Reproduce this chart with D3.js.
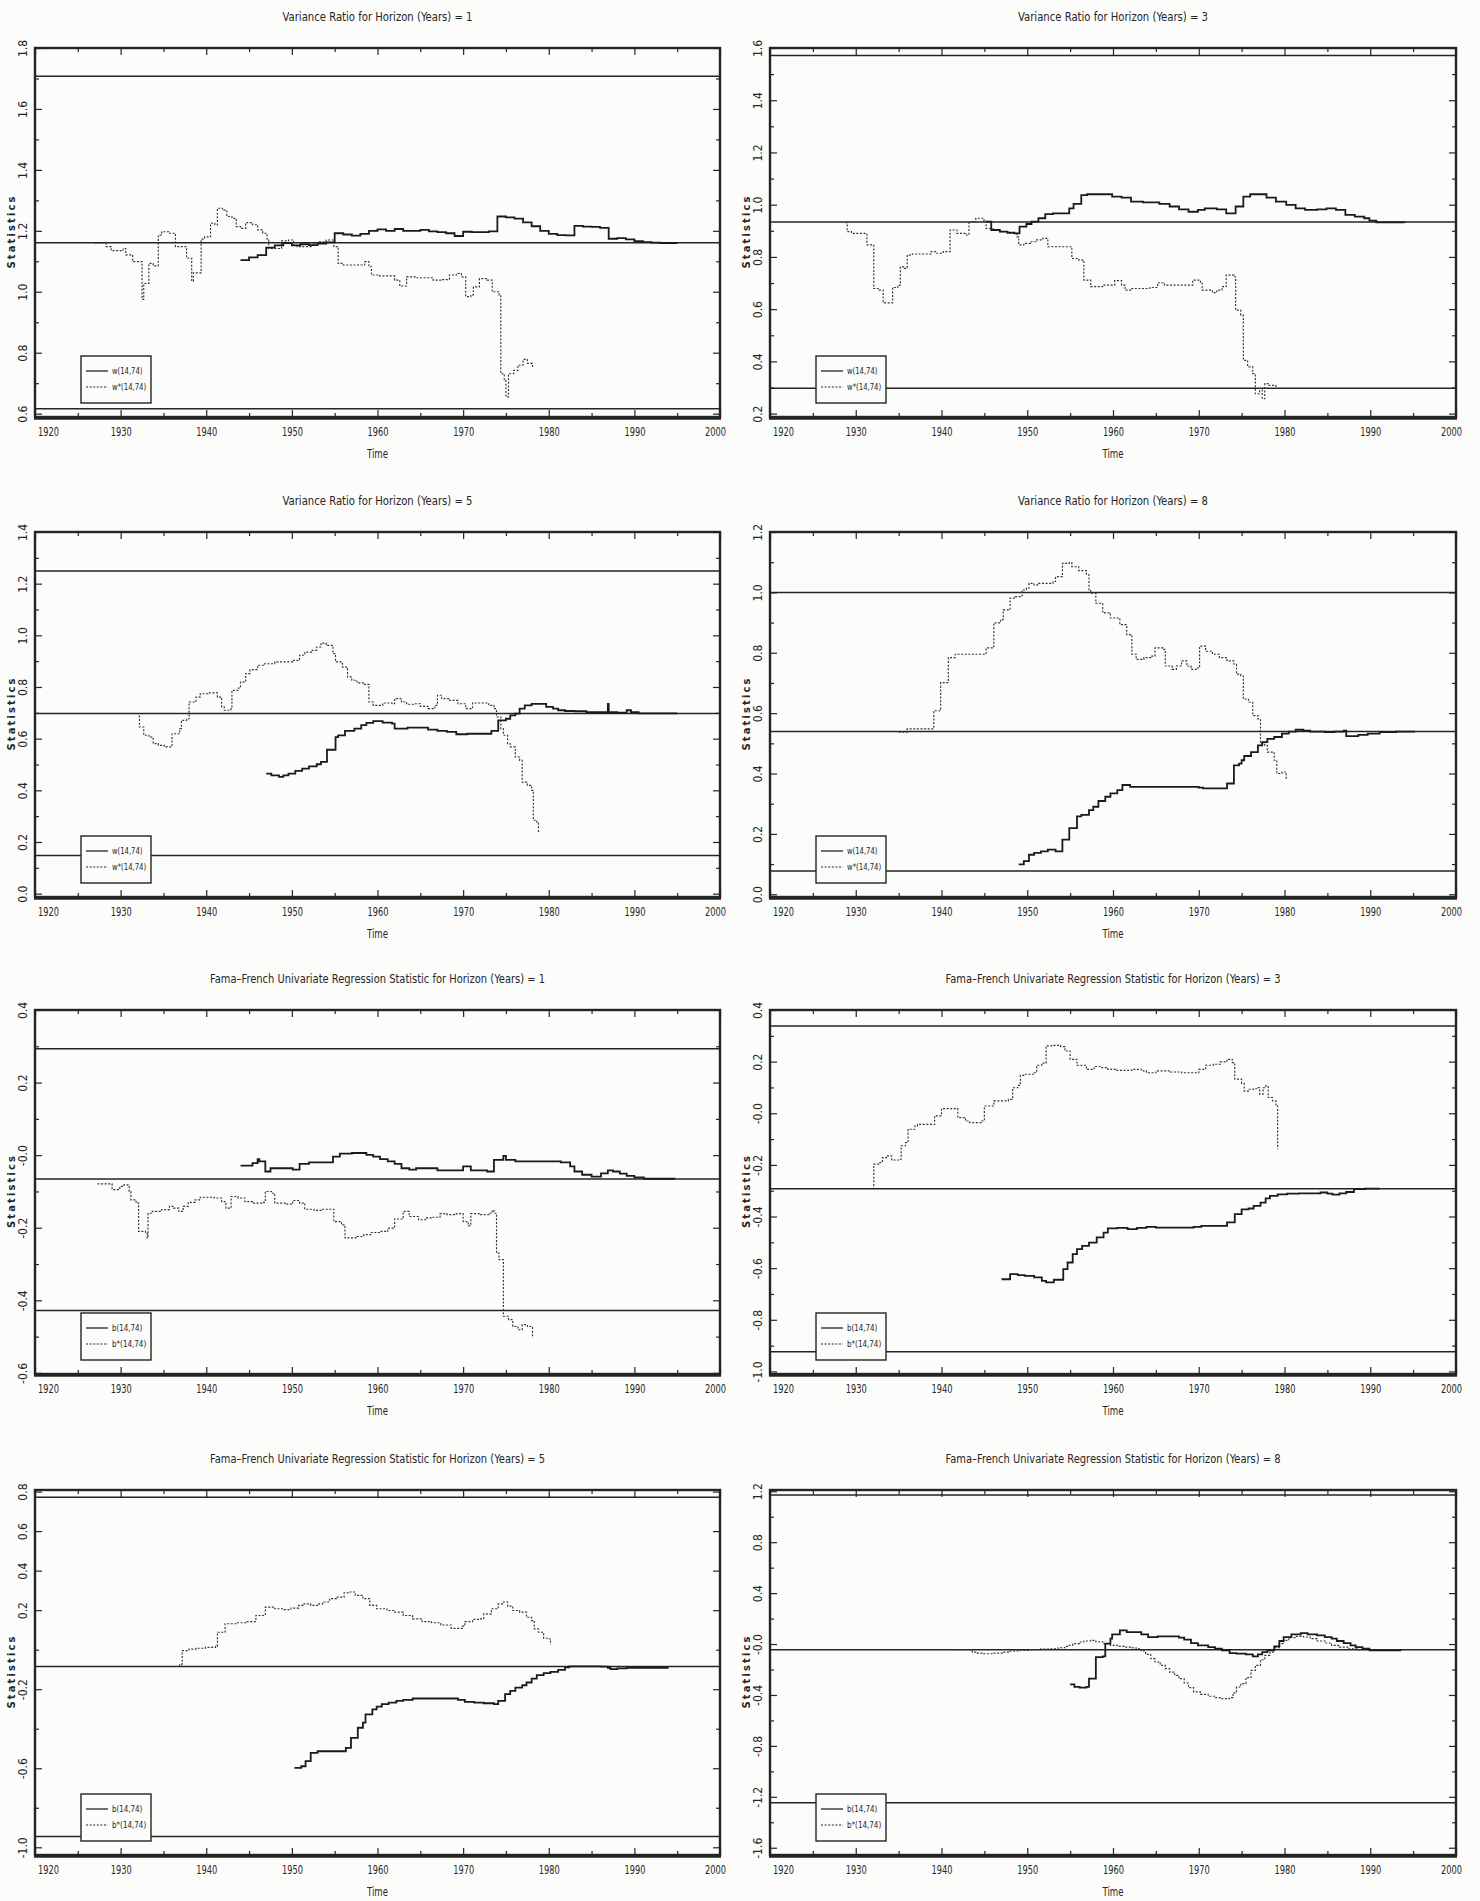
<!DOCTYPE html>
<html>
<head>
<meta charset="utf-8">
<script src="https://cdn.jsdelivr.net/npm/d3@7"></script>
<style>
  body { margin: 0; background: #fcfcfb; }
  svg { display: block; }
  text { font-family: "Liberation Sans Narrow", "DejaVu Sans Condensed", "Arial Narrow", "Liberation Sans", sans-serif; fill: #262626; }
</style>
</head>
<body>
<script>

// ---- chart text ----
var titles = [
  "Variance Ratio for Horizon (Years) = 1",
  "Variance Ratio for Horizon (Years) = 3",
  "Variance Ratio for Horizon (Years) = 5",
  "Variance Ratio for Horizon (Years) = 8",
  "Fama\u2013French Univariate Regression Statistic for Horizon (Years) = 1",
  "Fama\u2013French Univariate Regression Statistic for Horizon (Years) = 3",
  "Fama\u2013French Univariate Regression Statistic for Horizon (Years) = 5",
  "Fama\u2013French Univariate Regression Statistic for Horizon (Years) = 8"
];
var vrLegend = ["w(14,74)", "w*(14,74)"];
var ffLegend = ["b(14,74)", "b*(14,74)"];
var xDomain = [1920, 2000];
var xLabels = ["1920", "1930", "1940", "1950", "1960", "1970", "1980", "1990", "2000"];

// ---- y axis ranges, tick labels and tick spacing per panel ----
var vr1Domain = [0.589, 1.8],  vr1Ticks = ["0.6", "0.8", "1.0", "1.2", "1.4", "1.6", "1.8"];
var vr3Domain = [0.187, 1.6],  vr3Ticks = ["0.2", "0.4", "0.6", "0.8", "1.0", "1.2", "1.4", "1.6"];
var vr5Domain = [-0.013, 1.4], vr5Ticks = ["0.0", "0.2", "0.4", "0.6", "0.8", "1.0", "1.2", "1.4"];
var vr8Domain = [-0.009, 1.2], vr8Ticks = ["0.0", "0.2", "0.4", "0.6", "0.8", "1.0", "1.2"];
var ff1Domain = [-0.603, 0.4], ff1Ticks = ["-0.6", "-0.4", "-0.2", "-0.0", "0.2", "0.4"];
var ff3Domain = [-1.01, 0.4],  ff3Ticks = ["-1.0", "-0.8", "-0.6", "-0.4", "-0.2", "-0.0", "0.2", "0.4"];
var ff5Domain = [-1.039, 0.808], ff5Ticks = ["-1.0", "-0.6", "-0.2", "0.2", "0.4", "0.6", "0.8"];
var ff8Domain = [-1.657, 1.21], ff8Ticks = ["-1.6", "-1.2", "-0.8", "-0.4", "-0.0", "0.4", "0.8", "1.2"];
var yMinorSteps = [0.1, 0.1, 0.1, 0.1, 0.1, 0.1, 0.2, 0.2];

// ---- horizontal reference lines (upper, middle, lower) ----
var vr1Crit = [1.707, 1.161, 0.616];
var vr3Crit = [1.571, 0.934, 0.297];
var vr5Crit = [1.249, 0.697, 0.148];
var vr8Crit = [1.000, 0.539, 0.077];
var ff1Crit = [0.293, -0.066, -0.428];
var ff3Crit = [0.338, -0.292, -0.924];
var ff5Crit = [0.771, -0.085, -0.946];
var ff8Crit = [1.171, -0.044, -1.247];

// ---- series: [year, statistic] ----
var vr1W = [[1944.0,1.104],[1945.0,1.113],[1946.0,1.120],[1947.0,1.145],[1948.0,1.152],[1949.0,1.160],[1950.0,1.152],[1951.0,1.156],[1952.0,1.153],[1953.0,1.158],[1954.0,1.162],[1955.0,1.192],[1956.0,1.188],[1957.0,1.184],[1958.0,1.190],[1959.0,1.200],[1960.0,1.205],[1961.0,1.200],[1962.0,1.206],[1963.0,1.200],[1964.0,1.200],[1965.0,1.203],[1966.0,1.198],[1967.0,1.196],[1968.0,1.192],[1969.0,1.183],[1970.0,1.197],[1971.0,1.196],[1973.0,1.198],[1974.0,1.247],[1975.0,1.244],[1976.0,1.240],[1977.0,1.228],[1978.0,1.215],[1979.0,1.200],[1980.0,1.190],[1981.0,1.186],[1982.0,1.185],[1983.0,1.216],[1984.0,1.214],[1985.0,1.213],[1986.0,1.210],[1987.0,1.174],[1988.0,1.176],[1989.0,1.172],[1990.0,1.166],[1991.0,1.163],[1992.0,1.161],[1993.0,1.160],[1995.0,1.159]];
var vr1WStar = [[1927.0,1.160],[1928.3,1.148],[1928.9,1.135],[1930.3,1.142],[1930.6,1.121],[1931.4,1.099],[1932.5,0.975],[1932.7,1.027],[1933.3,1.093],[1933.8,1.085],[1934.4,1.186],[1934.8,1.197],[1935.6,1.192],[1936.4,1.148],[1937.7,1.110],[1938.3,1.035],[1938.5,1.062],[1939.4,1.173],[1939.8,1.180],[1940.5,1.225],[1941.0,1.220],[1941.3,1.274],[1941.9,1.268],[1942.4,1.247],[1943.0,1.241],[1943.5,1.214],[1944.0,1.208],[1944.6,1.227],[1945.4,1.220],[1946.0,1.203],[1946.6,1.192],[1947.1,1.170],[1947.3,1.142],[1948.8,1.167],[1949.6,1.170],[1950.2,1.153],[1950.6,1.148],[1952.4,1.159],[1953.2,1.164],[1954.0,1.170],[1954.9,1.148],[1955.4,1.093],[1956.0,1.088],[1958.5,1.099],[1959.0,1.082],[1959.3,1.055],[1960.2,1.052],[1962.0,1.038],[1962.6,1.019],[1963.4,1.049],[1964.5,1.046],[1966.5,1.038],[1967.5,1.040],[1968.4,1.055],[1969.2,1.060],[1969.8,1.049],[1970.3,0.984],[1970.9,0.990],[1971.2,1.016],[1971.9,1.043],[1972.8,1.038],[1973.4,1.000],[1974.2,0.989],[1974.4,0.731],[1974.8,0.709],[1975.0,0.655],[1975.3,0.731],[1975.9,0.742],[1976.4,0.759],[1977.0,0.778],[1977.5,0.765],[1978.1,0.748]];

var vr3W = [[1945.2,0.935],[1945.8,0.903],[1946.8,0.897],[1947.7,0.893],[1948.5,0.890],[1949.1,0.916],[1949.9,0.926],[1950.5,0.935],[1951.3,0.948],[1952.1,0.964],[1953.0,0.967],[1954.9,0.986],[1955.4,1.003],[1956.3,1.037],[1957.0,1.040],[1959.9,1.031],[1961.0,1.027],[1962.1,1.012],[1963.5,1.009],[1965.4,1.003],[1966.6,0.993],[1967.7,0.982],[1968.8,0.973],[1969.9,0.980],[1970.7,0.986],[1972.1,0.982],[1973.2,0.967],[1974.3,0.993],[1975.2,1.031],[1976.0,1.040],[1977.9,1.027],[1979.0,1.012],[1980.2,0.999],[1981.3,0.986],[1982.4,0.980],[1983.8,0.982],[1984.9,0.986],[1986.0,0.980],[1987.1,0.961],[1988.2,0.954],[1989.3,0.948],[1989.9,0.939],[1990.7,0.932],[1994.0,0.931]];
var vr3WStar = [[1928.8,0.931],[1929.0,0.897],[1929.5,0.890],[1931.3,0.846],[1932.1,0.679],[1932.6,0.673],[1933.2,0.624],[1934.3,0.683],[1934.9,0.692],[1935.2,0.762],[1935.7,0.756],[1936.0,0.807],[1936.6,0.811],[1938.8,0.820],[1939.3,0.814],[1940.2,0.820],[1941.0,0.903],[1941.8,0.890],[1942.9,0.884],[1943.2,0.935],[1944.0,0.948],[1944.9,0.941],[1945.2,0.909],[1946.0,0.903],[1946.8,0.897],[1947.7,0.890],[1948.8,0.877],[1949.0,0.846],[1949.6,0.852],[1950.4,0.858],[1951.0,0.865],[1951.8,0.871],[1952.4,0.839],[1955.2,0.794],[1956.0,0.788],[1956.6,0.711],[1957.4,0.686],[1958.8,0.692],[1960.2,0.709],[1961.0,0.692],[1961.4,0.673],[1962.2,0.679],[1964.3,0.683],[1965.2,0.701],[1966.0,0.692],[1969.3,0.711],[1970.2,0.699],[1970.4,0.673],[1971.6,0.663],[1972.1,0.673],[1972.7,0.686],[1973.2,0.730],[1974.1,0.724],[1974.3,0.596],[1974.9,0.577],[1975.2,0.404],[1975.7,0.379],[1976.3,0.353],[1976.6,0.276],[1977.1,0.296],[1977.4,0.257],[1977.7,0.315],[1978.2,0.308],[1979.0,0.302]];

var vr5W = [[1947.0,0.465],[1947.6,0.458],[1948.5,0.452],[1949.0,0.458],[1949.6,0.465],[1950.4,0.475],[1951.2,0.484],[1952.0,0.493],[1952.9,0.501],[1953.4,0.510],[1954.1,0.557],[1955.1,0.606],[1955.4,0.613],[1956.2,0.630],[1957.3,0.639],[1958.1,0.652],[1958.7,0.661],[1959.5,0.668],[1960.6,0.662],[1961.7,0.658],[1962.0,0.639],[1963.5,0.643],[1965.9,0.635],[1967.0,0.630],[1968.1,0.626],[1969.2,0.617],[1970.5,0.619],[1973.3,0.630],[1974.1,0.671],[1975.0,0.677],[1975.5,0.690],[1976.1,0.697],[1976.6,0.716],[1977.2,0.729],[1978.0,0.735],[1979.7,0.723],[1980.5,0.716],[1981.1,0.710],[1981.9,0.707],[1983.0,0.706],[1984.4,0.703],[1986.9,0.735],[1987.0,0.703],[1988.0,0.701],[1989.1,0.710],[1989.6,0.703],[1990.5,0.698],[1995.0,0.698]];
var vr5WStar = [[1932.0,0.697],[1932.2,0.645],[1932.7,0.613],[1933.3,0.606],[1933.8,0.581],[1934.4,0.574],[1935.1,0.568],[1936.0,0.619],[1936.9,0.639],[1937.1,0.671],[1937.7,0.677],[1938.0,0.742],[1938.8,0.761],[1939.3,0.774],[1940.2,0.777],[1941.3,0.761],[1941.8,0.723],[1942.1,0.710],[1942.9,0.716],[1943.0,0.787],[1943.8,0.797],[1944.0,0.819],[1944.6,0.852],[1945.1,0.867],[1946.0,0.884],[1946.8,0.890],[1948.0,0.897],[1950.1,0.903],[1950.9,0.923],[1951.5,0.935],[1952.3,0.942],[1952.9,0.955],[1953.4,0.970],[1954.0,0.961],[1954.8,0.929],[1955.1,0.897],[1955.9,0.877],[1956.5,0.839],[1957.0,0.826],[1957.6,0.816],[1958.4,0.810],[1959.0,0.742],[1959.5,0.729],[1960.6,0.738],[1961.7,0.735],[1962.0,0.755],[1962.8,0.742],[1963.4,0.733],[1964.2,0.735],[1965.0,0.725],[1965.9,0.716],[1966.7,0.729],[1967.0,0.768],[1967.5,0.755],[1968.3,0.748],[1969.4,0.735],[1970.3,0.716],[1971.1,0.738],[1973.0,0.729],[1973.6,0.716],[1973.9,0.684],[1974.4,0.639],[1974.7,0.613],[1975.2,0.581],[1975.5,0.568],[1976.1,0.529],[1976.6,0.516],[1976.9,0.432],[1977.5,0.419],[1978.0,0.400],[1978.2,0.284],[1978.6,0.277],[1978.8,0.239]];

var vr8W = [[1949.0,0.099],[1949.6,0.110],[1950.2,0.131],[1950.8,0.137],[1951.6,0.142],[1952.4,0.148],[1953.3,0.142],[1954.1,0.181],[1954.9,0.219],[1955.8,0.258],[1956.3,0.263],[1957.2,0.279],[1957.7,0.290],[1958.3,0.309],[1959.1,0.323],[1959.7,0.334],[1960.5,0.345],[1961.1,0.362],[1962.0,0.356],[1970.0,0.353],[1970.5,0.351],[1973.3,0.367],[1974.1,0.427],[1974.7,0.433],[1975.0,0.444],[1975.3,0.458],[1976.1,0.471],[1976.9,0.493],[1977.4,0.504],[1978.0,0.515],[1978.8,0.521],[1979.7,0.532],[1980.5,0.539],[1981.3,0.545],[1982.2,0.542],[1983.0,0.539],[1984.7,0.537],[1985.8,0.539],[1986.9,0.542],[1987.2,0.524],[1988.6,0.528],[1989.7,0.532],[1991.1,0.537],[1993.0,0.539],[1995.2,0.539]];
var vr8WStar = [[1935.0,0.537],[1936.0,0.548],[1939.1,0.608],[1939.9,0.701],[1940.8,0.784],[1941.6,0.795],[1945.2,0.816],[1946.1,0.899],[1946.9,0.910],[1947.2,0.942],[1948.0,0.981],[1948.6,0.986],[1949.4,1.008],[1949.9,1.014],[1950.2,1.030],[1950.8,1.025],[1951.3,1.030],[1953.0,1.036],[1953.3,1.052],[1954.1,1.096],[1954.9,1.099],[1955.2,1.085],[1956.0,1.072],[1956.9,1.058],[1957.2,1.008],[1957.4,0.997],[1958.0,0.964],[1958.8,0.932],[1959.7,0.915],[1960.8,0.893],[1961.6,0.860],[1962.2,0.795],[1962.7,0.778],[1963.6,0.784],[1964.4,0.789],[1964.9,0.816],[1965.8,0.811],[1966.1,0.756],[1966.9,0.745],[1967.4,0.756],[1968.0,0.773],[1968.6,0.756],[1969.1,0.745],[1969.9,0.751],[1970.1,0.822],[1970.8,0.805],[1971.6,0.795],[1972.4,0.784],[1973.3,0.773],[1974.1,0.762],[1974.4,0.729],[1974.9,0.723],[1975.2,0.647],[1975.8,0.636],[1976.3,0.592],[1976.9,0.581],[1977.2,0.499],[1977.7,0.493],[1978.0,0.471],[1978.8,0.444],[1979.1,0.400],[1979.7,0.405],[1980.2,0.378]];

var ff1B = [[1944.0,-0.029],[1945.4,-0.022],[1946.0,-0.011],[1946.2,-0.017],[1946.9,-0.045],[1947.5,-0.036],[1950.1,-0.040],[1950.9,-0.024],[1952.0,-0.020],[1954.8,-0.004],[1955.6,0.004],[1957.0,0.006],[1958.7,0.001],[1959.5,-0.004],[1960.3,-0.011],[1961.2,-0.017],[1962.0,-0.024],[1962.8,-0.036],[1963.7,-0.040],[1964.5,-0.036],[1967.0,-0.042],[1970.0,-0.031],[1970.9,-0.042],[1972.8,-0.045],[1973.6,-0.013],[1974.7,-0.002],[1975.0,-0.013],[1976.1,-0.017],[1981.4,-0.020],[1982.5,-0.031],[1983.0,-0.045],[1983.9,-0.054],[1985.0,-0.059],[1986.1,-0.050],[1986.9,-0.042],[1987.5,-0.045],[1988.3,-0.051],[1989.1,-0.057],[1990.0,-0.061],[1991.1,-0.065],[1994.7,-0.066]];
var ff1BStar = [[1927.3,-0.079],[1929.0,-0.095],[1929.9,-0.086],[1930.4,-0.082],[1931.0,-0.100],[1931.2,-0.123],[1931.8,-0.132],[1932.1,-0.210],[1932.9,-0.215],[1933.1,-0.228],[1933.2,-0.160],[1933.7,-0.155],[1934.8,-0.150],[1935.7,-0.141],[1936.2,-0.146],[1936.8,-0.155],[1937.3,-0.141],[1937.9,-0.130],[1938.7,-0.123],[1939.3,-0.116],[1940.9,-0.118],[1941.8,-0.128],[1942.3,-0.146],[1942.9,-0.114],[1943.7,-0.118],[1944.5,-0.128],[1945.4,-0.132],[1946.5,-0.130],[1946.9,-0.100],[1947.6,-0.105],[1948.0,-0.132],[1949.3,-0.135],[1950.1,-0.125],[1950.9,-0.132],[1951.5,-0.149],[1952.6,-0.152],[1953.5,-0.149],[1954.9,-0.183],[1955.8,-0.192],[1956.2,-0.228],[1957.6,-0.224],[1958.4,-0.219],[1959.2,-0.213],[1960.3,-0.210],[1961.2,-0.201],[1962.0,-0.176],[1963.0,-0.155],[1963.7,-0.169],[1964.8,-0.178],[1965.6,-0.173],[1966.4,-0.171],[1967.3,-0.161],[1968.1,-0.164],[1969.2,-0.161],[1970.0,-0.183],[1970.6,-0.195],[1970.9,-0.161],[1972.0,-0.164],[1973.1,-0.160],[1973.4,-0.152],[1973.6,-0.160],[1973.9,-0.270],[1974.2,-0.288],[1974.7,-0.444],[1975.3,-0.453],[1975.8,-0.472],[1976.4,-0.481],[1976.9,-0.467],[1977.5,-0.472],[1978.1,-0.504]];

var ff3B = [[1947.0,-0.643],[1948.0,-0.623],[1948.9,-0.627],[1949.7,-0.630],[1950.8,-0.636],[1951.7,-0.649],[1952.2,-0.655],[1953.1,-0.645],[1954.2,-0.604],[1954.7,-0.578],[1955.3,-0.546],[1955.8,-0.526],[1956.4,-0.514],[1957.2,-0.501],[1958.1,-0.481],[1958.9,-0.462],[1959.4,-0.446],[1960.5,-0.444],[1961.7,-0.449],[1962.8,-0.444],[1963.9,-0.440],[1965.0,-0.443],[1969.4,-0.440],[1970.3,-0.436],[1973.3,-0.423],[1974.2,-0.391],[1975.0,-0.372],[1975.8,-0.369],[1976.4,-0.359],[1977.2,-0.346],[1977.8,-0.330],[1978.3,-0.320],[1979.2,-0.314],[1980.3,-0.311],[1981.7,-0.310],[1984.2,-0.307],[1985.0,-0.311],[1985.6,-0.315],[1986.4,-0.310],[1987.2,-0.305],[1988.1,-0.294],[1989.4,-0.292],[1991.1,-0.292]];
var ff3BStar = [[1932.0,-0.292],[1932.1,-0.197],[1932.8,-0.191],[1933.1,-0.172],[1933.6,-0.165],[1934.2,-0.181],[1935.0,-0.178],[1935.3,-0.126],[1935.8,-0.114],[1936.1,-0.062],[1936.9,-0.049],[1937.2,-0.043],[1939.2,-0.010],[1940.0,0.018],[1941.9,-0.017],[1942.8,-0.030],[1943.3,-0.036],[1944.7,-0.030],[1945.0,0.028],[1946.1,0.048],[1947.8,0.054],[1948.3,0.099],[1948.9,0.108],[1949.2,0.147],[1949.7,0.151],[1950.8,0.157],[1951.1,0.186],[1951.7,0.194],[1952.2,0.261],[1953.1,0.263],[1953.9,0.258],[1954.4,0.241],[1955.0,0.209],[1955.8,0.186],[1956.9,0.170],[1957.8,0.181],[1958.6,0.177],[1959.4,0.170],[1960.3,0.166],[1962.2,0.170],[1963.3,0.164],[1963.9,0.157],[1965.0,0.164],[1966.7,0.160],[1968.0,0.157],[1970.0,0.170],[1970.8,0.186],[1971.7,0.190],[1972.5,0.199],[1973.3,0.209],[1973.9,0.196],[1974.2,0.132],[1975.0,0.116],[1975.3,0.086],[1975.8,0.093],[1976.4,0.095],[1976.9,0.099],[1977.1,0.074],[1977.5,0.099],[1977.8,0.106],[1978.1,0.061],[1978.6,0.048],[1979.0,0.028],[1979.2,-0.139]];

var ff5B = [[1950.3,-0.598],[1951.1,-0.590],[1951.6,-0.564],[1952.2,-0.522],[1953.0,-0.514],[1956.3,-0.497],[1956.9,-0.446],[1957.7,-0.395],[1958.3,-0.369],[1958.6,-0.327],[1959.4,-0.302],[1959.9,-0.288],[1960.5,-0.276],[1961.3,-0.268],[1962.2,-0.259],[1963.0,-0.254],[1964.1,-0.247],[1969.4,-0.254],[1970.2,-0.264],[1971.3,-0.268],[1972.4,-0.271],[1973.6,-0.276],[1974.1,-0.259],[1974.9,-0.225],[1975.5,-0.208],[1976.1,-0.192],[1976.9,-0.180],[1977.4,-0.166],[1978.0,-0.146],[1978.6,-0.129],[1979.4,-0.119],[1980.2,-0.112],[1981.1,-0.102],[1981.9,-0.090],[1982.4,-0.085],[1986.1,-0.086],[1986.9,-0.092],[1987.2,-0.098],[1988.0,-0.095],[1989.1,-0.092],[1994.0,-0.092]];
var ff5BStar = [[1936.5,-0.085],[1936.9,-0.073],[1937.2,-0.005],[1938.0,0.003],[1938.8,0.007],[1939.9,0.012],[1941.1,0.017],[1941.3,0.088],[1942.2,0.131],[1943.6,0.136],[1944.7,0.142],[1945.8,0.173],[1946.9,0.215],[1948.0,0.207],[1949.1,0.203],[1949.9,0.210],[1950.8,0.224],[1951.3,0.232],[1952.2,0.224],[1953.0,0.232],[1953.6,0.241],[1954.4,0.258],[1955.2,0.266],[1956.1,0.288],[1956.6,0.292],[1957.4,0.275],[1958.3,0.258],[1959.1,0.224],[1959.9,0.207],[1961.1,0.198],[1961.9,0.190],[1963.0,0.173],[1964.1,0.156],[1965.2,0.142],[1966.3,0.136],[1967.4,0.125],[1968.6,0.108],[1969.9,0.119],[1970.2,0.142],[1971.1,0.153],[1971.9,0.156],[1972.4,0.181],[1973.3,0.207],[1974.1,0.232],[1974.7,0.241],[1975.2,0.220],[1975.8,0.198],[1976.6,0.190],[1977.4,0.164],[1978.0,0.147],[1978.3,0.105],[1978.8,0.088],[1979.4,0.058],[1979.9,0.054],[1980.2,0.024]];

var ff8B = [[1955.0,-0.316],[1955.5,-0.337],[1956.1,-0.342],[1956.9,-0.337],[1957.2,-0.272],[1958.0,-0.102],[1958.8,-0.097],[1959.1,0.003],[1959.7,0.042],[1959.9,0.076],[1960.8,0.107],[1961.6,0.094],[1963.3,0.076],[1964.1,0.055],[1965.2,0.060],[1967.7,0.050],[1968.3,0.034],[1969.1,0.008],[1969.9,-0.010],[1971.1,-0.024],[1971.9,-0.037],[1972.7,-0.050],[1973.6,-0.071],[1974.4,-0.076],[1975.5,-0.081],[1976.3,-0.097],[1976.9,-0.081],[1977.4,-0.063],[1978.0,-0.050],[1978.8,-0.018],[1979.4,0.024],[1979.9,0.055],[1980.8,0.076],[1981.9,0.086],[1982.7,0.076],[1983.8,0.068],[1984.7,0.055],[1985.5,0.042],[1986.1,0.024],[1986.9,0.008],[1987.7,-0.010],[1988.3,-0.024],[1989.1,-0.037],[1989.9,-0.050],[1993.6,-0.050]];
var ff8BStar = [[1942.0,-0.044],[1943.6,-0.063],[1944.1,-0.071],[1944.9,-0.076],[1946.1,-0.071],[1947.2,-0.063],[1948.0,-0.055],[1949.1,-0.050],[1950.2,-0.044],[1951.3,-0.039],[1952.7,-0.037],[1953.6,-0.029],[1954.4,-0.018],[1954.9,-0.010],[1955.3,0.003],[1956.1,0.016],[1956.6,0.024],[1957.4,0.029],[1958.0,0.018],[1958.8,0.003],[1959.7,-0.010],[1960.5,-0.018],[1961.3,-0.024],[1962.2,-0.029],[1962.7,-0.037],[1963.3,-0.055],[1963.8,-0.081],[1964.4,-0.115],[1964.9,-0.141],[1965.5,-0.167],[1966.1,-0.193],[1966.6,-0.220],[1967.2,-0.246],[1967.7,-0.272],[1968.3,-0.306],[1968.8,-0.342],[1969.4,-0.376],[1970.2,-0.395],[1971.1,-0.410],[1971.9,-0.421],[1972.7,-0.429],[1973.6,-0.421],[1974.0,-0.384],[1974.4,-0.337],[1974.9,-0.311],[1975.5,-0.264],[1976.1,-0.207],[1976.6,-0.167],[1977.2,-0.123],[1977.7,-0.089],[1978.3,-0.063],[1978.8,-0.029],[1979.4,0.003],[1979.9,0.029],[1980.5,0.050],[1981.3,0.060],[1982.2,0.055],[1983.0,0.042],[1983.8,0.024],[1984.7,0.008],[1985.5,-0.010],[1986.3,-0.024],[1987.4,-0.037],[1988.6,-0.044],[1993.6,-0.050]];

// panel table, in reading order (2 columns x 4 rows)
var panels = [
  {domain: vr1Domain, ticks: vr1Ticks, crit: vr1Crit, solid: vr1W, dashed: vr1WStar, legend: vrLegend},
  {domain: vr3Domain, ticks: vr3Ticks, crit: vr3Crit, solid: vr3W, dashed: vr3WStar, legend: vrLegend},
  {domain: vr5Domain, ticks: vr5Ticks, crit: vr5Crit, solid: vr5W, dashed: vr5WStar, legend: vrLegend},
  {domain: vr8Domain, ticks: vr8Ticks, crit: vr8Crit, solid: vr8W, dashed: vr8WStar, legend: vrLegend},
  {domain: ff1Domain, ticks: ff1Ticks, crit: ff1Crit, solid: ff1B, dashed: ff1BStar, legend: ffLegend},
  {domain: ff3Domain, ticks: ff3Ticks, crit: ff3Crit, solid: ff3B, dashed: ff3BStar, legend: ffLegend},
  {domain: ff5Domain, ticks: ff5Ticks, crit: ff5Crit, solid: ff5B, dashed: ff5BStar, legend: ffLegend},
  {domain: ff8Domain, ticks: ff8Ticks, crit: ff8Crit, solid: ff8B, dashed: ff8BStar, legend: ffLegend}
];

// ---- layout (plot frames) ----
var width = 1480, height = 1901;
var colX = [[35, 720], [770, 1456]];
var rowY = [[48, 417], [532, 897], [1010, 1374], [1490, 1855]];
var ink = "#242424";

var svg = d3.select("body").append("svg")
  .attr("width", width)
  .attr("height", height);

svg.append("rect").attr("width", width).attr("height", height).attr("fill", "#fcfcfb");

function strip_domain(g) {
  g.select(".domain").remove();
  g.selectAll(".tick line").attr("stroke", ink).attr("stroke-width", 1.2);
}

function draw_panel(p, i) {
  var col = i % 2, row = Math.floor(i / 2);
  var x0 = colX[col][0], x1 = colX[col][1];
  var y0 = rowY[row][0], y1 = rowY[row][1];
  var xScale = d3.scaleLinear().domain(xDomain).range([x0, x1]);
  var yScale = d3.scaleLinear().domain(p.domain).range([y1, y0]);
  var g = svg.append("g");

  // title
  g.append("text")
    .attr("x", (x0 + x1) / 2)
    .attr("y", y0 - 27)
    .attr("text-anchor", "middle")
    .attr("font-size", 12.5)
    .attr("textLength", titles[i].length * 5)
    .attr("lengthAdjust", "spacingAndGlyphs")
    .text(titles[i]);

  var clipId = "clip" + i;
  g.append("clipPath").attr("id", clipId)
    .append("rect").attr("x", x0).attr("y", y0).attr("width", x1 - x0).attr("height", y1 - y0);

  var plot = g.append("g").attr("clip-path", "url(#" + clipId + ")");

  // reference lines
  plot.selectAll("line.crit")
    .data(p.crit)
    .enter()
    .append("line")
    .classed("crit", true)
    .attr("x1", x0).attr("x2", x1)
    .attr("y1", function(d) { return yScale(d); })
    .attr("y2", function(d) { return yScale(d); })
    .attr("stroke", ink)
    .attr("stroke-width", 1.5);

  var stepLine = d3.line()
    .x(function(d) { return xScale(d[0]); })
    .y(function(d) { return yScale(d[1]); })
    .curve(d3.curveStepAfter);

  plot.append("path").datum(p.dashed)
    .attr("d", stepLine)
    .attr("fill", "none")
    .attr("stroke", "#333")
    .attr("stroke-width", 1.15)
    .attr("stroke-dasharray", "2,1.6");

  plot.append("path").datum(p.solid)
    .attr("d", stepLine)
    .attr("fill", "none")
    .attr("stroke", "#1a1a1a")
    .attr("stroke-width", 1.8);

  // frame
  g.append("rect")
    .attr("x", x0).attr("y", y0)
    .attr("width", x1 - x0).attr("height", y1 - y0)
    .attr("fill", "none")
    .attr("stroke", ink)
    .attr("stroke-width", 2.4);
  g.append("line")
    .attr("x1", x0 - 1).attr("x2", x1 + 1)
    .attr("y1", y1 + 1).attr("y2", y1 + 1)
    .attr("stroke", ink)
    .attr("stroke-width", 3.5);

  // x ticks, inward on top and bottom
  var majorYears = xLabels.map(Number);
  var minorYears = majorYears.slice(0, -1).map(function(d) { return d + 5; });
  [[majorYears, 7], [minorYears, 4]].forEach(function(spec) {
    g.append("g").attr("transform", "translate(0," + y1 + ")")
      .call(d3.axisBottom(xScale).tickValues(spec[0]).tickSize(-spec[1]).tickFormat(""))
      .call(strip_domain);
    g.append("g").attr("transform", "translate(0," + y0 + ")")
      .call(d3.axisTop(xScale).tickValues(spec[0]).tickSize(-spec[1]).tickFormat(""))
      .call(strip_domain);
  });

  // x labels
  var xl = g.append("g").attr("transform", "translate(0," + (y1 + 7) + ")")
    .call(d3.axisBottom(xScale).tickValues(majorYears).tickSize(0).tickFormat(function(d, k) { return xLabels[k]; }))
    .call(strip_domain);
  xl.selectAll("text")
    .attr("font-size", 12)
    .attr("font-family", null)
    .attr("fill", "#262626")
    .attr("textLength", 21)
    .attr("lengthAdjust", "spacingAndGlyphs")
    .attr("x", function(d) { return d === xDomain[0] ? 13 : (d === xDomain[1] ? -5 : 0); });

  g.append("text")
    .attr("x", (x0 + x1) / 2)
    .attr("y", y1 + 41)
    .attr("text-anchor", "middle")
    .attr("font-size", 13)
    .attr("textLength", 21)
    .attr("lengthAdjust", "spacingAndGlyphs")
    .text("Time");

  // y ticks, inward on left and right
  var tickVals = p.ticks.map(Number);
  var step = yMinorSteps[i];
  var allVals = d3.range(Math.ceil(p.domain[0] / step - 1e-6), Math.floor(p.domain[1] / step + 1e-6) + 1)
    .map(function(k) { return +(k * step).toFixed(2); });
  var minorVals = allVals.filter(function(v) {
    return !tickVals.some(function(t) { return Math.abs(t - v) < 1e-6; });
  });
  [[tickVals, 7], [minorVals, 4]].forEach(function(spec) {
    g.append("g").attr("transform", "translate(" + x0 + ",0)")
      .call(d3.axisLeft(yScale).tickValues(spec[0]).tickSize(-spec[1]).tickFormat(""))
      .call(strip_domain);
    g.append("g").attr("transform", "translate(" + x1 + ",0)")
      .call(d3.axisRight(yScale).tickValues(spec[0]).tickSize(-spec[1]).tickFormat(""))
      .call(strip_domain);
  });

  // y labels, rotated
  var yl = g.append("g").attr("transform", "translate(" + x0 + ",0)")
    .call(d3.axisLeft(yScale).tickValues(tickVals).tickSize(0).tickFormat(function(d, k) { return p.ticks[k]; }))
    .call(strip_domain);
  yl.selectAll("text")
    .attr("font-size", 12)
    .attr("font-family", null)
    .attr("fill", "#262626")
    .attr("x", 0)
    .attr("dy", "0.35em")
    .attr("text-anchor", "middle")
    .attr("transform", "translate(-12,0) rotate(-90)");

  g.append("text")
    .attr("transform", "translate(" + (x0 - 24) + "," + ((y0 + y1) / 2) + ") rotate(-90)")
    .attr("text-anchor", "middle")
    .attr("dy", "0.35em")
    .attr("font-size", 11)
    .attr("font-weight", "bold")
    .attr("font-family", "DejaVu Sans, sans-serif")
    .attr("textLength", 72)
    .attr("lengthAdjust", "spacing")
    .text("Statistics");

  // legend
  var lx = x0 + 46, ly = y1 - 61;
  var lg = g.append("g");
  lg.append("rect")
    .attr("x", lx).attr("y", ly)
    .attr("width", 70).attr("height", 47)
    .attr("fill", "#fcfcfb")
    .attr("stroke", ink)
    .attr("stroke-width", 1.4);
  p.legend.forEach(function(label, k) {
    var yy = ly + 15 + k * 16;
    lg.append("line")
      .attr("x1", lx + 5).attr("x2", lx + 27)
      .attr("y1", yy).attr("y2", yy)
      .attr("stroke", ink)
      .attr("stroke-width", k === 0 ? 1.3 : 1.1)
      .attr("stroke-dasharray", k === 0 ? null : "2,1.6");
    lg.append("text")
      .attr("x", lx + 31).attr("y", yy + 3)
      .attr("font-size", 9.5)
      .attr("textLength", label.length * 3.8)
      .attr("lengthAdjust", "spacingAndGlyphs")
      .text(label);
  });
}

panels.forEach(draw_panel);

</script>
</body>
</html>
